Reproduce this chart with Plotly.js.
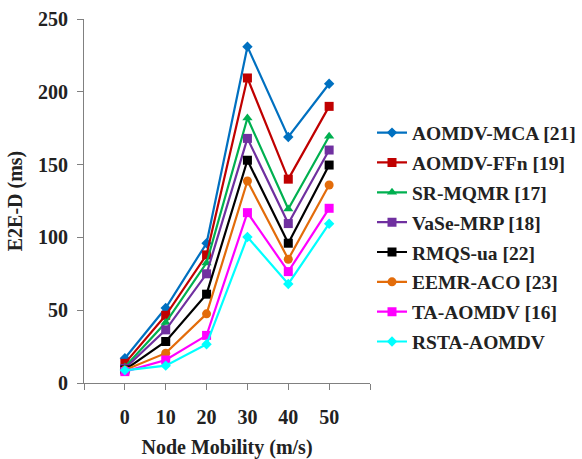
<!DOCTYPE html>
<html>
<head>
<meta charset="utf-8">
<script src="https://cdn.plot.ly/plotly-3.0.1.min.js"></script>
<style>html,body{margin:0;padding:0;background:#fff;}#chart{width:582px;height:459px;}</style>
</head>
<body>
<div id="chart"></div>
<script>
const mobility = [0, 10, 20, 30, 40, 50];
const seriesNames = ["AOMDV-MCA [21]", "AOMDV-FFn [19]", "SR-MQMR [17]", "VaSe-MRP [18]", "RMQS-ua [22]", "EEMR-ACO [23]", "TA-AOMDV [16]", "RSTA-AOMDV"];
const aomdvMca = [17, 51.5, 96, 231, 169, 205.5];
const aomdvFfn = [13.5, 46.5, 88, 209.5, 140, 190];
const srMqmr = [11, 41.5, 82.5, 182, 119.5, 169.5];
const vaseMrp = [10, 36.5, 75, 168, 109.5, 160];
const rmqsUa = [9, 28.5, 61, 153, 96, 149.7];
const eemrAco = [9, 20.5, 47.5, 138.7, 85, 136];
const taAomdv = [7.8, 15.8, 32.7, 117, 76.5, 120];
const rstaAomdv = [8.7, 11.9, 26.6, 100.3, 68, 109.4];
const tickVals = [-10, 0, 10, 20, 30, 40, 50, 60];
const tickText = ["", "0", "10", "20", "30", "40", "50", ""];

const allValues = [aomdvMca, aomdvFfn, srMqmr, vaseMrp, rmqsUa, eemrAco, taAomdv, rstaAomdv];
const colors = ["#0070C0", "#C00000", "#00B050", "#7030A0", "#000000", "#E36C0A", "#FF00FF", "#00FFFF"];
const symbols = ["diamond", "square", "triangle-up", "square", "square", "circle", "square", "diamond"];
const sizes = [8, 9, 9, 9, 9, 9, 9, 8];

const font = "Liberation Serif, Times New Roman, serif";
const traces = allValues.map((v, i) => ({
  x: mobility, y: v, name: seriesNames[i], type: "scatter", mode: "lines+markers",
  legendgroup: "g" + i,
  line: {color: colors[i], width: 2.2},
  marker: {color: colors[i], symbol: symbols[i], size: sizes[i]}
}));

const layout = {
  width: 582, height: 459,
  margin: {l: 84, r: 212, t: 19, b: 76, autoexpand: false},
  paper_bgcolor: "#fff", plot_bgcolor: "#fff",
  font: {family: font, size: 20, color: "#222"},
  showlegend: true,
  legend: {x: 1.007, y: 0.40, xanchor: "left", yanchor: "middle",
    font: {family: font, size: 19.5, color: "#222", weight: "bold"}, tracegroupgap: 1.5, itemwidth: 30},
  xaxis: {
    range: [-10, 60], tickmode: "array", tickvals: tickVals, ticktext: tickText,
    showgrid: false, zeroline: false, showline: true, linecolor: "#808080", linewidth: 1,
    ticks: "outside", ticklen: 6, tickcolor: "#808080", ticklabelstandoff: 10,
    tickfont: {family: font, size: 20, color: "#222", weight: "bold"},
    title: {text: "Node Mobility (m/s)", font: {family: font, size: 20, color: "#222", weight: "bold"}, standoff: 14}
  },
  yaxis: {
    range: [0, 250], tickvals: [0, 50, 100, 150, 200, 250],
    showgrid: false, zeroline: false, showline: true, linecolor: "#808080", linewidth: 1,
    ticks: "outside", ticklen: 6, tickcolor: "#808080", ticklabelstandoff: 5,
    tickfont: {family: font, size: 20, color: "#222", weight: "bold"},
    title: {text: "E2E-D (ms)", font: {family: font, size: 20, color: "#222", weight: "bold"}, standoff: 10}
  }
};
Plotly.newPlot("chart", traces, layout, {displayModeBar: false, staticPlot: true});
</script>
</body>
</html>
